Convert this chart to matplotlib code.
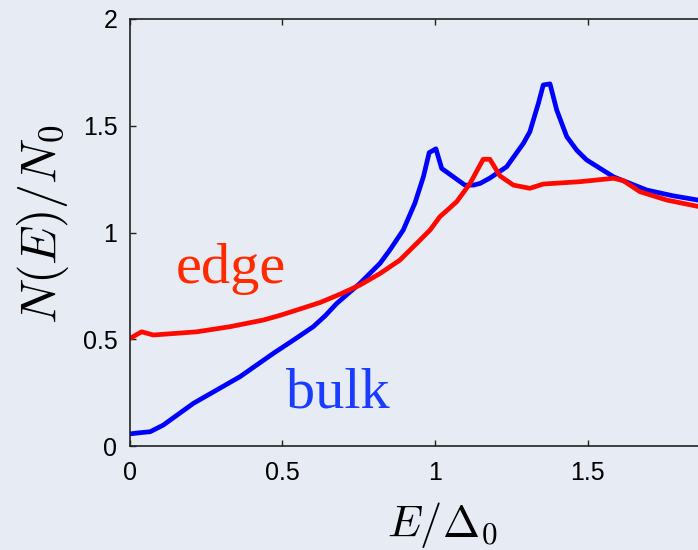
#!/usr/bin/env python3
"""Density of states at the edge and in the bulk, normalised to N0."""

import matplotlib.pyplot as plt

# bulk density of states
bulk_E = [0.0, 0.03, 0.066, 0.109, 0.208, 0.361, 0.47, 0.54, 0.601, 0.64,
          0.678, 0.754, 0.82, 0.852, 0.896, 0.934, 0.962, 0.981, 1.003, 1.022,
          1.06, 1.098, 1.126, 1.148, 1.18, 1.235, 1.29, 1.311, 1.339, 1.355,
          1.377, 1.399, 1.432, 1.465, 1.497, 1.585, 1.694, 1.78, 1.87]
bulk_N = [0.057, 0.062, 0.067, 0.098, 0.2, 0.325, 0.434, 0.5, 0.559, 0.61,
          0.668, 0.762, 0.856, 0.918, 1.012, 1.137, 1.261, 1.374, 1.392, 1.30,
          1.261, 1.222, 1.222, 1.23, 1.255, 1.308, 1.418, 1.472, 1.605, 1.691,
          1.696, 1.574, 1.449, 1.385, 1.34, 1.261, 1.199, 1.172, 1.15]

# edge density of states
edge_E = [0.0, 0.038, 0.077, 0.219, 0.328, 0.437, 0.492, 0.547, 0.623, 0.69,
          0.754, 0.82, 0.885, 0.94, 0.984, 1.016, 1.071, 1.115, 1.158, 1.18,
          1.213, 1.257, 1.311, 1.355, 1.475, 1.585, 1.617, 1.672, 1.76, 1.87]
edge_N = [0.504, 0.535, 0.52, 0.535, 0.559, 0.59, 0.612, 0.637, 0.672, 0.712,
          0.754, 0.808, 0.871, 0.949, 1.012, 1.074, 1.144, 1.23, 1.343, 1.343,
          1.265, 1.222, 1.207, 1.227, 1.238, 1.254, 1.243, 1.191, 1.152, 1.12]

x_ticks = [0, 0.5, 1, 1.5]
x_tick_labels = ["0", "0.5", "1", "1.5"]
y_ticks = [0, 0.5, 1, 1.5, 2]
y_tick_labels = ["0", "0.5", "1", "1.5", "2"]

bg = "#e7ecf4"

plt.rcParams["mathtext.fontset"] = "cm"

fig = plt.figure(figsize=(6.98, 5.5), dpi=100, facecolor=bg)
ax = fig.add_axes([0.1862, 0.189, 0.874, 0.7765])
ax.set_facecolor(bg)

ax.plot(bulk_E, bulk_N, color="#0000ff", lw=3.4, solid_joinstyle="round")
ax.plot(edge_E, edge_N, color="#ff0800", lw=3.4, solid_joinstyle="round")

ax.set_xlim(0, 2)
ax.set_ylim(0, 2)

ax.set_xticks(x_ticks)
ax.set_xticklabels(x_tick_labels, family="Liberation Sans", fontsize=18)
ax.set_yticks(y_ticks)
ax.set_yticklabels(y_tick_labels, family="Liberation Sans", fontsize=18)
ax.tick_params(direction="in", length=4, width=1, top=True, right=True,
               color="#222222")
ax.tick_params(axis="x", pad=11)
ax.tick_params(axis="y", pad=9)
for spine in ax.spines.values():
    spine.set_linewidth(1.2)
    spine.set_color("#222222")

fig.text(442 / 698, 1 - 537 / 550, r"$E/\Delta_0$", fontsize=32,
         ha="center", va="baseline")
fig.text(43 / 698, 1 - 224 / 550, r"$N(E)/N_0$", fontsize=36,
         rotation=90, ha="center", va="center")

ax.text(0.33, 0.83, "edge", color="#ff2a00", fontsize=42,
        family="Liberation Serif", ha="center", va="center")
ax.text(0.68, 0.245, "bulk", color="#1a3cff", fontsize=42,
        family="Liberation Serif", ha="center", va="center")

fig.savefig("out.png", dpi=100, facecolor=bg)
